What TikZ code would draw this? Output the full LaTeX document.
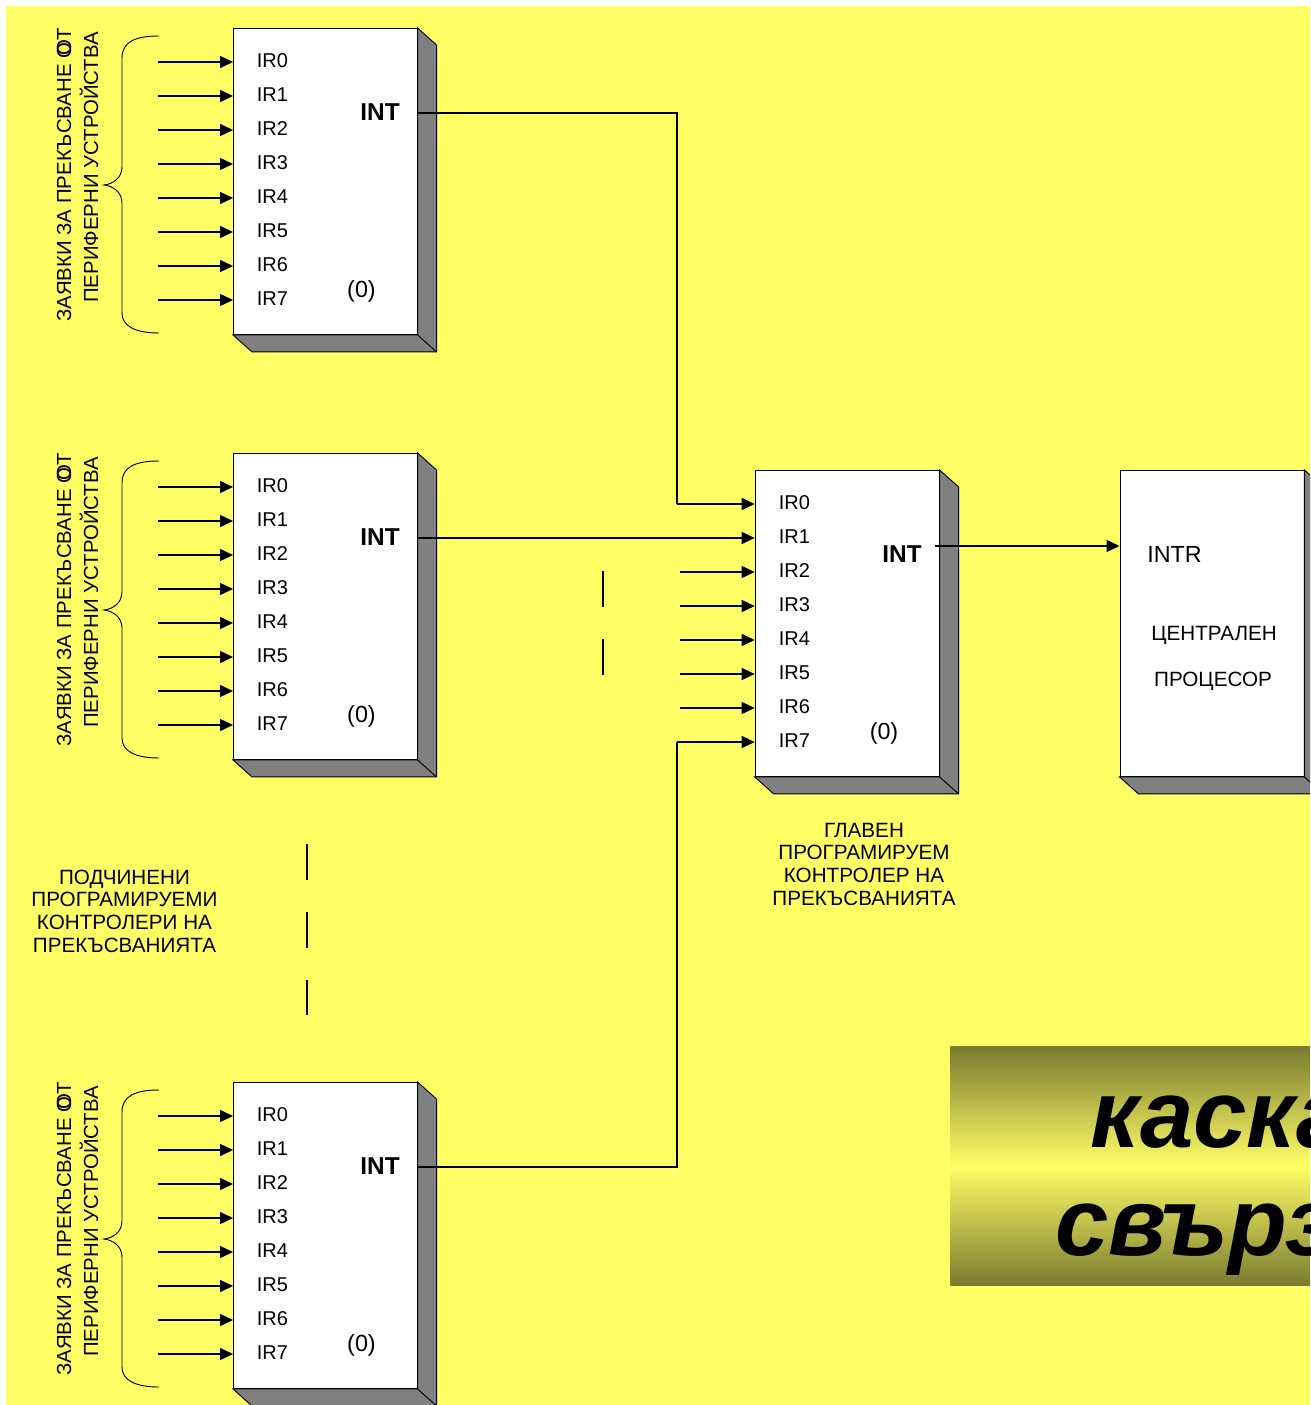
\documentclass[tikz,border=0pt]{standalone}
\usepackage{fontspec}
\setmainfont{Liberation Sans}
\usepackage{xcolor}
\usetikzlibrary{arrows.meta,calc}
\definecolor{slideYellow}{HTML}{FFFF66}
\definecolor{sideGray}{HTML}{808080}
\definecolor{bannerDark}{HTML}{7A7A30}

\begin{document}
\begin{tikzpicture}[
  x=.75pt, y=-.75pt,
  font=\fontsize{15}{17}\selectfont,
  chip/.style={draw, fill=white, line width=.7pt, anchor=north west, inner sep=0pt, minimum width=137.7pt, minimum height=229.5pt},
  side/.style={draw, fill=sideGray, line width=.7pt},
  arrow/.style={-{Triangle[length=9.75pt, width=9pt]}, line width=1.1pt},
  wire/.style={line width=1.1pt},
  pin/.style={anchor=west, inner sep=0pt},
  intlabel/.style={inner sep=0pt, font=\fontsize{18.3}{20}\selectfont\bfseries},
  zero/.style={inner sep=0pt, font=\fontsize{17.5}{18}\selectfont},
  caption/.style={inner sep=0pt, align=center, font=\fontsize{15.5}{17}\selectfont},
  request/.style={inner sep=0pt, rotate=90, font=\fontsize{15.3}{17}\selectfont},
  brace/.style={line width=.7pt},
  gap/.style={line width=1.1pt, dash pattern=on 27pt off 24pt},
  banner/.style={anchor=north west, inner sep=0pt, minimum width=270pt, minimum height=179.5pt, top color=bannerDark, bottom color=bannerDark, middle color=slideYellow},
  title/.style={anchor=base west, inner sep=0pt, font=\fontsize{72}{80}\selectfont\bfseries\itshape}
]
  \clip (0,0) rectangle (1310,1405);
  \fill[slideYellow] (6,6) rectangle (1310,1405);

  % slave controllers
  \foreach \s/\y in {1/28, 2/453, 3/1082} {
    \node[chip] (slave\s) at (233,\y) {};
    \foreach \i in {0,...,7} {
      \node[pin] (slave\s ir\i) at (256.5,\y+33+34*\i) {IR\i};
      \coordinate (slave\s tail\i) at (158,\y+34+34*\i);
      \draw[arrow] (slave\s tail\i) -- (slave\s tail\i -| slave\s.west);
    }
    \node[intlabel] (slave\s int) at (380,\y+84) {INT};
    \node[zero] (slave\s zero) at (361.5,\y+263.5) {(0)};
    \node[request] (slave\s reqa) at (64,\y+147) {ЗАЯВКИ ЗА ПРЕКЪСВАНЕ О\kern-.62em О\kern-.05em Т};
    \node[request] (slave\s reqb) at (89,\y+139.5) {ПЕРИФЕРНИ УСТРОЙСТВА};
    \draw[brace] (159,\y+8) .. controls (135,\y+8) and (122,\y+14) .. (122,\y+30) -- (122,\y+139)
      .. controls (122,\y+150) and (113,\y+156) .. (104,\y+157)
      .. controls (113,\y+158) and (122,\y+164) .. (122,\y+175) -- (122,\y+285)
      .. controls (122,\y+298) and (135,\y+305) .. (159,\y+305);
  }

  % master controller
  \node[chip, minimum width=138pt] (master) at (754.7,470) {};
  \foreach \i in {0,...,7} {
    \node[pin] (masterir\i) at (778.5,503+34*\i) {IR\i};
    \coordinate (mastertail\i) at (680,504+34*\i);
  }
  \foreach \i in {2,...,6}
    \draw[arrow] (mastertail\i) -- (mastertail\i -| master.west);
  \node[intlabel] (masterint) at (902,554) {INT};
  \node[zero] (masterzero) at (884,733.5) {(0)};
  \node[caption] (mastercap) at (864,864) {ГЛАВЕН\\ПРОГРАМИРУЕМ\\КОНТРОЛЕР НА\\ПРЕКЪСВАНИЯТА};
  \node[caption] (slavecap) at (124.5,911) {ПОДЧИНЕНИ\\ПРОГРАМИРУЕМИ\\КОНТРОЛЕРИ НА\\ПРЕКЪСВАНИЯТА};

  % processor
  \node[chip, minimum width=138pt] (cpu) at (1119.5,470) {};
  \node[pin, font=\fontsize{17.5}{20}\selectfont] (intr) at (1147,554) {INTR};
  \node[caption] (cpua) at (1214,635) {ЦЕНТРАЛЕН};
  \node[caption] (cpub) at (1213,681) {ПРОЦЕСОР};

  % raised sides
  \foreach \b in {slave1,slave2,slave3,master,cpu} {
    \filldraw[side] (\b.north east) -- ++(19,17) -- ($(\b.south east)+(19,17)$) -- ($(\b.south west)+(19,17)$)
      -- (\b.south west) -- (\b.south east) -- cycle;
    \draw[side] (\b.south east) -- ++(19,17);
  }

  % connections
  \coordinate (bendone) at (677,113);
  \coordinate (bendthree) at (677,1167);
  \draw[wire] (slave1.east |- bendone) -- (bendone) -- (bendone |- mastertail0);
  \draw[arrow] (bendone |- mastertail0) -- (mastertail0 -| master.west);
  \draw[arrow] (slave2.east |- mastertail1) -- (mastertail1 -| master.west);
  \draw[wire] (slave3.east |- bendthree) -- (bendthree) -- (bendthree |- mastertail7);
  \draw[arrow] (bendthree |- mastertail7) -- (mastertail7 -| master.west);
  \coordinate (intout) at (935,546);
  \draw[arrow] (intout) -- (intout -| cpu.west);

  % gaps between the drawn lines
  \coordinate (gapa) at (603,571);
  \coordinate (gapb) at (603,675);
  \coordinate (gapc) at (307,844);
  \coordinate (gapd) at (307,1015);
  \draw[gap] (gapa) -- (gapb);
  \draw[gap] (gapc) -- (gapd);

  % banner
  \node[banner] (bannerbox) at (950,1046) {};
  \node[title] (titlea) at (1090,1147) {каска};
  \node[title] (titleb) at (1055,1255) {свърз};
\end{tikzpicture}
\end{document}
